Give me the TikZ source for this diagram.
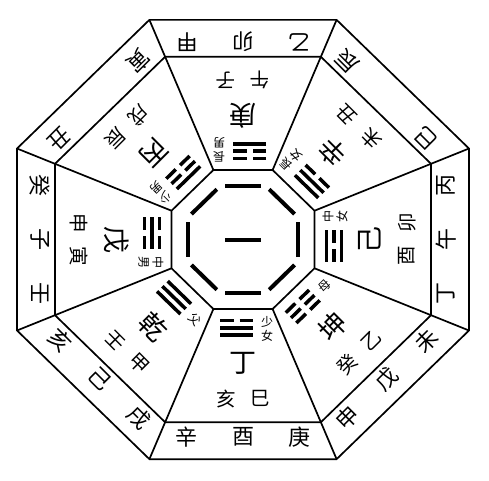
\documentclass[tikz,border=0pt]{standalone}
\usepackage{fontspec}
\newfontfamily\cjk{Noto Sans CJK TC}
\tikzset{
  oct/.style={line width=1.7pt, line join=miter},
  yaobar/.style={line width=3.5pt},
  ringbar/.style={line width=4pt},
  bigc/.style={font=\cjk\fontsize{27}{27}\selectfont, inner sep=0pt},
  brc/.style={font=\cjk\fontsize{19.5}{19.5}\selectfont, inner sep=0pt},
  outc/.style={font=\cjk\fontsize{22}{22}\selectfont, inner sep=0pt},
  labc/.style={font=\cjk\fontsize{12}{14}\selectfont, inner sep=0pt, align=center},
}
\newcommand\yao[2]{%
  \ifnum#1=1
    \draw[yaobar] (-23,#2) -- (10,#2);
  \else
    \draw[yaobar] (-23,#2) -- (-9.5,#2) (-3.5,#2) -- (10,#2);
  \fi}
\newcommand\trigram[3]{\yao{#1}{-83.5}\yao{#2}{-91}\yao{#3}{-98.5}}
\newcommand\sector[9]{%
  \begin{scope}[rotate=#1+90]
    \trigram#2
    \node[labc,rotate=#1+90] (s#1lab) at (24,-92) {#3};
    \node[bigc,rotate=#1+90] (s#1big) at (0,-127) {#4};
    \node[brc,rotate=#1+90] (s#1bl) at (-17,-164) {#5};
    \node[brc,rotate=#1+90] (s#1br) at (17,-164) {#6};
    \node[outc,rotate=#1+90] (s#1ol) at (-56,-203) {#7};
    \node[outc,rotate=#1+90] (s#1om) at (0,-203) {#8};
    \node[outc,rotate=#1+90] (s#1or) at (56,-203) {#9};
  \end{scope}}
\begin{document}
\begin{tikzpicture}[x=1pt,y=1pt]
  \useasboundingbox (-243,-240.5) rectangle (246,239.5);
  \begin{scope}[yscale=0.972]
    % octagons
    \draw[oct] (22.5:244.6) \foreach \a in {67.5,112.5,...,337.5} {-- (\a:244.6)} -- cycle;
    \draw[oct] (22.5:203.5) \foreach \a in {67.5,112.5,...,337.5} {-- (\a:203.5)} -- cycle;
    \draw[oct] (22.5:77.4) \foreach \a in {67.5,112.5,...,337.5} {-- (\a:77.4)} -- cycle;
    \foreach \a in {22.5,67.5,...,337.5} \draw[oct] (\a:77.4) -- (\a:244.6);
    % central ring of bars
    \foreach \t in {0,45,...,315} \draw[ringbar,rotate=\t] (-18,-55) -- (18,-55);
    \draw[ringbar] (-18,0) -- (18,0);
    % sectors: angle, trigram (inner,middle,outer), label, big, branch L, branch R, outer L, M, R
    \sector{90}{{0}{0}{1}}{長\\男}{庚}{午}{子}{乙}{卯}{甲}
    \sector{45}{{1}{1}{0}}{長\\女}{辛}{未}{丑}{巳}{}{辰}
    \sector{0}{{1}{0}{1}}{中\\女}{己}{酉}{卯}{丁}{午}{丙}
    \sector{-45}{{0}{0}{0}}{母}{坤}{癸}{乙}{申}{戊}{未}
    \sector{-90}{{0}{1}{1}}{少\\女}{丁}{亥}{巳}{辛}{酉}{庚}
    \sector{-135}{{1}{1}{1}}{父}{乾}{壬}{甲}{亥}{己}{戌}
    \sector{180}{{0}{1}{0}}{中\\男}{戊}{申}{寅}{癸}{子}{壬}
    \sector{135}{{1}{0}{0}}{少\\男}{丙}{戌}{辰}{寅}{}{丑}
  \end{scope}
\end{tikzpicture}
\end{document}
